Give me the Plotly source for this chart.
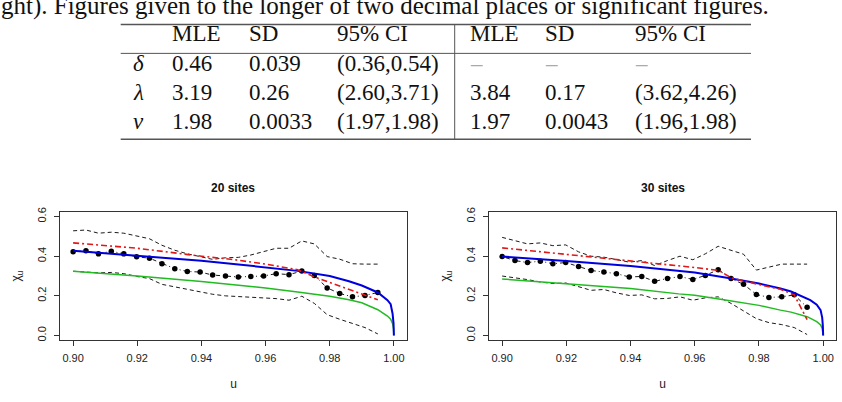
import plotly.graph_objects as go

W, H = 842, 402

# ---------------- data ----------------
u_emp = [0.9000, 0.9040, 0.9079, 0.9119, 0.9158, 0.9198, 0.9238, 0.9277, 0.9317,
         0.9356, 0.9396, 0.9435, 0.9475, 0.9515, 0.9554, 0.9594, 0.9633, 0.9673,
         0.9713, 0.9752, 0.9792, 0.9831, 0.9871, 0.9910, 0.9950]

chi_emp_20 = [0.423, 0.427, 0.412, 0.425, 0.412, 0.397, 0.390, 0.362, 0.337, 0.323,
              0.320, 0.305, 0.300, 0.295, 0.298, 0.300, 0.312, 0.307, 0.325, 0.303,
              0.240, 0.212, 0.195, 0.202, 0.217]
upper_20 = [0.528, 0.532, 0.516, 0.521, 0.516, 0.503, 0.488, 0.455, 0.430, 0.412,
            0.396, 0.384, 0.392, 0.394, 0.406, 0.422, 0.440, 0.440, 0.477, 0.462,
            0.398, 0.385, 0.362, 0.360, 0.360]
lower_20 = [0.324, 0.320, 0.316, 0.318, 0.312, 0.298, 0.287, 0.258, 0.245, 0.233,
            0.220, 0.208, 0.200, 0.196, 0.193, 0.190, 0.186, 0.178, 0.198, 0.162,
            0.105, 0.082, 0.060, 0.040, 0.008]

chi_emp_30 = [0.398, 0.378, 0.368, 0.375, 0.362, 0.368, 0.348, 0.328, 0.320, 0.312,
              0.295, 0.298, 0.273, 0.288, 0.297, 0.283, 0.303, 0.332, 0.287, 0.258,
              0.207, 0.192, 0.195, 0.205, 0.142]
upper_30 = [0.495, 0.478, 0.462, 0.467, 0.453, 0.457, 0.422, 0.400, 0.395, 0.383,
            0.370, 0.378, 0.353, 0.378, 0.400, 0.382, 0.412, 0.450, 0.428, 0.410,
            0.330, 0.345, 0.360, 0.360, 0.360]
lower_30 = [0.300, 0.292, 0.282, 0.270, 0.262, 0.265, 0.245, 0.228, 0.232, 0.215,
            0.202, 0.205, 0.185, 0.187, 0.195, 0.178, 0.190, 0.195, 0.162, 0.125,
            0.085, 0.065, 0.055, 0.040, 0.005]

u_blue_20 = [0.90, 0.92, 0.94, 0.95, 0.96, 0.97, 0.98, 0.986, 0.99, 0.995, 0.998, 0.999, 0.9996, 0.9999, 1.0]
chi_blue_20 = [0.427, 0.403, 0.377, 0.361, 0.343, 0.326, 0.300, 0.274, 0.252, 0.217, 0.178, 0.158, 0.110, 0.060, 0.0]
u_green_20 = [0.90, 0.92, 0.94, 0.96, 0.97, 0.98, 0.986, 0.99, 0.995, 0.998, 0.999, 0.9996, 0.9999, 1.0]
chi_green_20 = [0.324, 0.300, 0.272, 0.240, 0.220, 0.198, 0.180, 0.165, 0.130, 0.098, 0.082, 0.060, 0.035, 0.0]
u_red_20 = [0.90, 0.92, 0.94, 0.95, 0.96, 0.97, 0.975, 0.98, 0.986, 0.99, 0.995]
chi_red_20 = [0.467, 0.440, 0.400, 0.383, 0.360, 0.332, 0.297, 0.268, 0.236, 0.213, 0.180]

u_blue_30 = [0.90, 0.92, 0.94, 0.955, 0.96, 0.97, 0.98, 0.9867, 0.99, 0.996, 0.998, 0.9992, 0.9997, 0.9999, 1.0]
chi_blue_30 = [0.398, 0.376, 0.350, 0.325, 0.318, 0.291, 0.262, 0.237, 0.222, 0.178, 0.155, 0.128, 0.090, 0.050, 0.0]
u_green_30 = [0.90, 0.92, 0.94, 0.955, 0.96, 0.97, 0.98, 0.9867, 0.99, 0.995, 0.998, 0.9992, 0.9997, 1.0]
chi_green_30 = [0.285, 0.262, 0.237, 0.210, 0.203, 0.178, 0.152, 0.128, 0.118, 0.095, 0.070, 0.053, 0.035, 0.0]
u_red_30 = [0.90, 0.92, 0.94, 0.95, 0.96, 0.9675, 0.9715, 0.98, 0.9867, 0.991, 0.995]
chi_red_30 = [0.442, 0.410, 0.375, 0.360, 0.343, 0.328, 0.290, 0.257, 0.233, 0.205, 0.080]

x_ticks = [0.90, 0.92, 0.94, 0.96, 0.98, 1.00]
x_tick_labels = ["0.90", "0.92", "0.94", "0.96", "0.98", "1.00"]
y_ticks = [0.0, 0.2, 0.4, 0.6]
y_tick_labels = ["0.0", "0.2", "0.4", "0.6"]

panel_titles = ["20 sites", "30 sites"]

caption = "ght). Figures given to the longer of two decimal places or significant figures."
table_header = ["MLE", "SD", "95% CI", "MLE", "SD", "95% CI"]
table_params = ["δ", "λ", "ν"]
table_rows = [
    ["0.46", "0.039", "(0.36,0.54)", "–", "–", "–"],
    ["3.19", "0.26", "(2.60,3.71)", "3.84", "0.17", "(3.62,4.26)"],
    ["1.98", "0.0033", "(1.97,1.98)", "1.97", "0.0043", "(1.96,1.98)"],
]

# ---------------- layout helpers ----------------
def px(x):
    return x / W

def py(y):
    return 1 - y / H

BLACK = "#1a1a1a"
BLUE = "#0000dd"
GREEN = "#22bb22"
RED = "#e01818"

fig = go.Figure()

panels = [
    ("x", "y", chi_emp_20, upper_20, lower_20, u_blue_20, chi_blue_20, u_green_20, chi_green_20, u_red_20, chi_red_20),
    ("x2", "y2", chi_emp_30, upper_30, lower_30, u_blue_30, chi_blue_30, u_green_30, chi_green_30, u_red_30, chi_red_30),
]

for (xa, ya, emp, up, lo, ub, cb, ug, cg, ur, cr) in panels:
    fig.add_trace(go.Scatter(x=u_emp, y=up, mode="lines", xaxis=xa, yaxis=ya,
                             line=dict(color=BLACK, width=1, dash="4px,3px"), showlegend=False))
    fig.add_trace(go.Scatter(x=u_emp, y=lo, mode="lines", xaxis=xa, yaxis=ya,
                             line=dict(color=BLACK, width=1, dash="4px,3px"), showlegend=False))
    fig.add_trace(go.Scatter(x=ug, y=cg, mode="lines", xaxis=xa, yaxis=ya,
                             line=dict(color=GREEN, width=1.5), showlegend=False))
    fig.add_trace(go.Scatter(x=u_emp, y=emp, mode="lines+markers", xaxis=xa, yaxis=ya,
                             line=dict(color=BLACK, width=1, dash="1px,3px,4px,3px"),
                             marker=dict(color="black", size=5.5), showlegend=False))
    fig.add_trace(go.Scatter(x=ub, y=cb, mode="lines", xaxis=xa, yaxis=ya,
                             line=dict(color=BLUE, width=2), showlegend=False))
    fig.add_trace(go.Scatter(x=ur, y=cr, mode="lines", xaxis=xa, yaxis=ya,
                             line=dict(color=RED, width=1.6, dash="6px,3px,2px,3px"), showlegend=False))

y_dom = [61.5 / H, 191.6 / H]
x_doms = [[60.3 / W, 406.7 / W], [489.3 / W, 836.0 / W]]

axis_font = dict(family="Liberation Sans, Arial, sans-serif", size=11, color="#222")
title_font = dict(family="Liberation Sans, Arial, sans-serif", size=12, color="#222")
common_x = dict(range=[0.896, 1.004], tickmode="array", tickvals=x_ticks, ticktext=x_tick_labels,
                ticks="outside", ticklen=5, tickcolor="#333", showgrid=False, zeroline=False,
                showline=True, mirror=True, linecolor="#333", linewidth=1, tickfont=axis_font,
                ticklabelstandoff=3,
                title=dict(text="u", font=title_font, standoff=16))
common_y = dict(range=[-0.024, 0.624], tickmode="array", tickvals=y_ticks, ticktext=y_tick_labels,
                ticks="outside", ticklen=5, tickcolor="#333", showgrid=False, zeroline=False,
                showline=True, mirror=True, linecolor="#333", linewidth=1, tickfont=axis_font,
                tickangle=-90, ticklabelstandoff=4,
                title=dict(text="χ<sub>u</sub>", font=title_font, standoff=12))

fig.update_layout(
    width=W, height=H, margin=dict(l=0, r=0, t=0, b=0),
    paper_bgcolor="white", plot_bgcolor="white",
    xaxis=dict(domain=x_doms[0], anchor="y", **common_x),
    yaxis=dict(domain=y_dom, anchor="x", **common_y),
    xaxis2=dict(domain=x_doms[1], anchor="y2", **common_x),
    yaxis2=dict(domain=y_dom, anchor="x2", **common_y),
)

annotations = []
# panel titles
for dom, t in zip(x_doms, panel_titles):
    annotations.append(dict(text="<b>" + t + "</b>", x=(dom[0] + dom[1]) / 2, y=py(186),
                            xref="paper", yref="paper", showarrow=False, xanchor="center", yanchor="middle",
                            font=dict(family="Liberation Sans, Arial, sans-serif", size=12, color="#111")))

serif = "Liberation Serif, Times New Roman, serif"
tfont = dict(family=serif, size=23, color="#111")
# caption line (cut at the top/left as on the page)
annotations.append(dict(text=caption, x=px(-1), y=py(2.5), xref="paper", yref="paper", showarrow=False,
                        xanchor="left", yanchor="middle", font=dict(family=serif, size=25, color="#111")))

col_x = [170, 247, 335, 467.7, 542.7, 632.7]
row_y = [60, 90, 119]
for cx, h in zip(col_x, table_header):
    annotations.append(dict(text=h, x=px(cx), y=py(30), xref="paper", yref="paper", showarrow=False,
                            xanchor="left", yanchor="middle", font=tfont))
for ry, p, row in zip(row_y, table_params, table_rows):
    annotations.append(dict(text="<i>" + p + "</i>", x=px(131), y=py(ry), xref="paper", yref="paper",
                            showarrow=False, xanchor="left", yanchor="middle", font=tfont))
    for cx, v in zip(col_x, row):
        f = dict(tfont)
        if v == "–":
            f["color"] = "#aaaaaa"
        annotations.append(dict(text=v, x=px(cx), y=py(ry), xref="paper", yref="paper", showarrow=False,
                                xanchor="left", yanchor="middle", font=f))

fig.update_layout(annotations=annotations)

shapes = [
    dict(type="line", xref="paper", yref="paper", x0=px(120.7), x1=px(751), y0=py(20.7), y1=py(20.7),
         line=dict(color="#555", width=1.6)),
    dict(type="line", xref="paper", yref="paper", x0=px(120.7), x1=px(751), y0=py(50), y1=py(50),
         line=dict(color="#555", width=1)),
    dict(type="line", xref="paper", yref="paper", x0=px(120.7), x1=px(751), y0=py(137), y1=py(137),
         line=dict(color="#555", width=1.6)),
    dict(type="line", xref="paper", yref="paper", x0=px(454.7), x1=px(454.7), y0=py(20.7), y1=py(137),
         line=dict(color="#555", width=1)),
]
fig.update_layout(shapes=shapes)

fig.write_html("out.html")
